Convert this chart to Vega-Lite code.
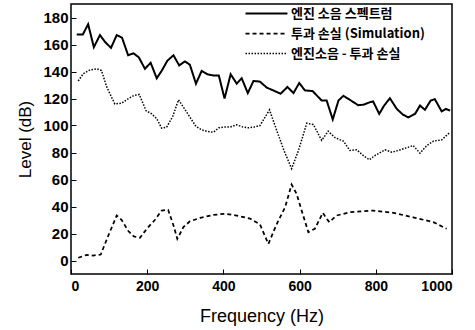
{
  "$schema": "https://vega.github.io/schema/vega-lite/v6.json",
  "width": 381,
  "height": 270,
  "autosize": {"type": "none"},
  "padding": {"left": 71, "top": 4, "right": 23, "bottom": 56},
  "background": "white",
  "config": {
    "font": "Liberation Sans",
    "view": {"stroke": "black", "strokeWidth": 1.5},
    "axis": {
      "grid": false,
      "domain": false,
      "tickColor": "black",
      "tickSize": -5,
      "tickWidth": 1,
      "labelColor": "black",
      "labelFont": "Liberation Sans",
      "labelFontWeight": "bold",
      "labelFontSize": 14,
      "titleColor": "black",
      "titleFont": "Liberation Sans",
      "titleFontWeight": "normal"
    }
  },
  "data": {
    "values": [
      {"freq": 15, "level": 167.4, "series": "엔진 소음 스펙트럼"},
      {"freq": 31, "level": 167.4, "series": "엔진 소음 스펙트럼"},
      {"freq": 45, "level": 175, "series": "엔진 소음 스펙트럼"},
      {"freq": 60, "level": 158, "series": "엔진 소음 스펙트럼"},
      {"freq": 76, "level": 167, "series": "엔진 소음 스펙트럼"},
      {"freq": 89, "level": 162, "series": "엔진 소음 스펙트럼"},
      {"freq": 105, "level": 157.5, "series": "엔진 소음 스펙트럼"},
      {"freq": 120, "level": 167, "series": "엔진 소음 스펙트럼"},
      {"freq": 134, "level": 165, "series": "엔진 소음 스펙트럼"},
      {"freq": 150, "level": 152, "series": "엔진 소음 스펙트럼"},
      {"freq": 164, "level": 153.5, "series": "엔진 소음 스펙트럼"},
      {"freq": 178, "level": 150.5, "series": "엔진 소음 스펙트럼"},
      {"freq": 194, "level": 142, "series": "엔진 소음 스펙트럼"},
      {"freq": 209, "level": 146.5, "series": "엔진 소음 스펙트럼"},
      {"freq": 225, "level": 135, "series": "엔진 소음 스펙트럼"},
      {"freq": 238, "level": 140.5, "series": "엔진 소음 스펙트럼"},
      {"freq": 253, "level": 148, "series": "엔진 소음 스펙트럼"},
      {"freq": 269, "level": 152, "series": "엔진 소음 스펙트럼"},
      {"freq": 284, "level": 144.5, "series": "엔진 소음 스펙트럼"},
      {"freq": 299, "level": 147.5, "series": "엔진 소음 스펙트럼"},
      {"freq": 312, "level": 145, "series": "엔진 소음 스펙트럼"},
      {"freq": 328, "level": 131, "series": "엔진 소음 스펙트럼"},
      {"freq": 343, "level": 140.5, "series": "엔진 소음 스펙트럼"},
      {"freq": 358, "level": 138, "series": "엔진 소음 스펙트럼"},
      {"freq": 374, "level": 137, "series": "엔진 소음 스펙트럼"},
      {"freq": 388, "level": 137, "series": "엔진 소음 스펙트럼"},
      {"freq": 403, "level": 120, "series": "엔진 소음 스펙트럼"},
      {"freq": 419, "level": 138, "series": "엔진 소음 스펙트럼"},
      {"freq": 435, "level": 131, "series": "엔진 소음 스펙트럼"},
      {"freq": 448, "level": 135, "series": "엔진 소음 스펙트럼"},
      {"freq": 464, "level": 124, "series": "엔진 소음 스펙트럼"},
      {"freq": 479, "level": 133, "series": "엔진 소음 스펙트럼"},
      {"freq": 496, "level": 132.5, "series": "엔진 소음 스펙트럼"},
      {"freq": 514, "level": 128, "series": "엔진 소음 스펙트럼"},
      {"freq": 531, "level": 126, "series": "엔진 소음 스펙트럼"},
      {"freq": 550, "level": 123.5, "series": "엔진 소음 스펙트럼"},
      {"freq": 568, "level": 128.5, "series": "엔진 소음 스펙트럼"},
      {"freq": 584, "level": 124, "series": "엔진 소음 스펙트럼"},
      {"freq": 599, "level": 131.5, "series": "엔진 소음 스펙트럼"},
      {"freq": 614, "level": 126, "series": "엔진 소음 스펙트럼"},
      {"freq": 634, "level": 125.5, "series": "엔진 소음 스펙트럼"},
      {"freq": 658, "level": 118.5, "series": "엔진 소음 스펙트럼"},
      {"freq": 671, "level": 118.5, "series": "엔진 소음 스펙트럼"},
      {"freq": 687, "level": 104.5, "series": "엔진 소음 스펙트럼"},
      {"freq": 702, "level": 118.5, "series": "엔진 소음 스펙트럼"},
      {"freq": 715, "level": 122, "series": "엔진 소음 스펙트럼"},
      {"freq": 732, "level": 119, "series": "엔진 소음 스펙트럼"},
      {"freq": 754, "level": 115, "series": "엔진 소음 스펙트럼"},
      {"freq": 769, "level": 115.5, "series": "엔진 소음 스펙트럼"},
      {"freq": 785, "level": 117.3, "series": "엔진 소음 스펙트럼"},
      {"freq": 793, "level": 117.8, "series": "엔진 소음 스펙트럼"},
      {"freq": 809, "level": 108.6, "series": "엔진 소음 스펙트럼"},
      {"freq": 822, "level": 114.8, "series": "엔진 소음 스펙트럼"},
      {"freq": 837, "level": 120.2, "series": "엔진 소음 스펙트럼"},
      {"freq": 855, "level": 112.3, "series": "엔진 소음 스펙트럼"},
      {"freq": 871, "level": 108.1, "series": "엔진 소음 스펙트럼"},
      {"freq": 885, "level": 106, "series": "엔진 소음 스펙트럼"},
      {"freq": 903, "level": 108.6, "series": "엔진 소음 스펙트럼"},
      {"freq": 916, "level": 114.8, "series": "엔진 소음 스펙트럼"},
      {"freq": 929, "level": 111.6, "series": "엔진 소음 스펙트럼"},
      {"freq": 944, "level": 118.5, "series": "엔진 소음 스펙트럼"},
      {"freq": 955, "level": 119.5, "series": "엔진 소음 스펙트럼"},
      {"freq": 973, "level": 110.4, "series": "엔진 소음 스펙트럼"},
      {"freq": 984, "level": 112.3, "series": "엔진 소음 스펙트럼"},
      {"freq": 995, "level": 111, "series": "엔진 소음 스펙트럼"},

      {"freq": 19, "level": 2, "series": "투과 손실 (Simulation)"},
      {"freq": 41, "level": 4.2, "series": "투과 손실 (Simulation)"},
      {"freq": 58, "level": 3.7, "series": "투과 손실 (Simulation)"},
      {"freq": 78, "level": 4.4, "series": "투과 손실 (Simulation)"},
      {"freq": 98, "level": 18.5, "series": "투과 손실 (Simulation)"},
      {"freq": 120, "level": 33.3, "series": "투과 손실 (Simulation)"},
      {"freq": 133, "level": 30, "series": "투과 손실 (Simulation)"},
      {"freq": 150, "level": 22, "series": "투과 손실 (Simulation)"},
      {"freq": 165, "level": 17.8, "series": "투과 손실 (Simulation)"},
      {"freq": 181, "level": 16.8, "series": "투과 손실 (Simulation)"},
      {"freq": 199, "level": 23.5, "series": "투과 손실 (Simulation)"},
      {"freq": 220, "level": 30, "series": "투과 손실 (Simulation)"},
      {"freq": 238, "level": 37, "series": "투과 손실 (Simulation)"},
      {"freq": 255, "level": 37.5, "series": "투과 손실 (Simulation)"},
      {"freq": 269, "level": 26, "series": "투과 손실 (Simulation)"},
      {"freq": 279, "level": 16, "series": "투과 손실 (Simulation)"},
      {"freq": 295, "level": 24.7, "series": "투과 손실 (Simulation)"},
      {"freq": 312, "level": 29, "series": "투과 손실 (Simulation)"},
      {"freq": 339, "level": 31.6, "series": "투과 손실 (Simulation)"},
      {"freq": 374, "level": 33.8, "series": "투과 손실 (Simulation)"},
      {"freq": 404, "level": 34.6, "series": "투과 손실 (Simulation)"},
      {"freq": 435, "level": 33.3, "series": "투과 손실 (Simulation)"},
      {"freq": 470, "level": 31, "series": "투과 손실 (Simulation)"},
      {"freq": 496, "level": 26.7, "series": "투과 손실 (Simulation)"},
      {"freq": 518, "level": 12.3, "series": "투과 손실 (Simulation)"},
      {"freq": 540, "level": 27, "series": "투과 손실 (Simulation)"},
      {"freq": 562, "level": 39.5, "series": "투과 손실 (Simulation)"},
      {"freq": 579, "level": 56.3, "series": "투과 손실 (Simulation)"},
      {"freq": 592, "level": 49.4, "series": "투과 손실 (Simulation)"},
      {"freq": 608, "level": 34.6, "series": "투과 손실 (Simulation)"},
      {"freq": 623, "level": 21, "series": "투과 손실 (Simulation)"},
      {"freq": 640, "level": 23.5, "series": "투과 손실 (Simulation)"},
      {"freq": 661, "level": 35.3, "series": "투과 손실 (Simulation)"},
      {"freq": 671, "level": 31, "series": "투과 손실 (Simulation)"},
      {"freq": 678, "level": 28.4, "series": "투과 손실 (Simulation)"},
      {"freq": 697, "level": 33.3, "series": "투과 손실 (Simulation)"},
      {"freq": 732, "level": 35.8, "series": "투과 손실 (Simulation)"},
      {"freq": 793, "level": 37, "series": "투과 손실 (Simulation)"},
      {"freq": 846, "level": 35.3, "series": "투과 손실 (Simulation)"},
      {"freq": 898, "level": 32, "series": "투과 손실 (Simulation)"},
      {"freq": 951, "level": 28.4, "series": "투과 손실 (Simulation)"},
      {"freq": 986, "level": 23.5, "series": "투과 손실 (Simulation)"},

      {"freq": 19, "level": 133, "series": "엔진소음 - 투과 손실"},
      {"freq": 32, "level": 138.3, "series": "엔진소음 - 투과 손실"},
      {"freq": 50, "level": 141.2, "series": "엔진소음 - 투과 손실"},
      {"freq": 67, "level": 142, "series": "엔진소음 - 투과 손실"},
      {"freq": 80, "level": 140.7, "series": "엔진소음 - 투과 손실"},
      {"freq": 94, "level": 128.4, "series": "엔진소음 - 투과 손실"},
      {"freq": 115, "level": 116, "series": "엔진소음 - 투과 손실"},
      {"freq": 133, "level": 116.5, "series": "엔진소음 - 투과 손실"},
      {"freq": 150, "level": 119.8, "series": "엔진소음 - 투과 손실"},
      {"freq": 165, "level": 122.2, "series": "엔진소음 - 투과 손실"},
      {"freq": 179, "level": 123, "series": "엔진소음 - 투과 손실"},
      {"freq": 197, "level": 111, "series": "엔진소음 - 투과 손실"},
      {"freq": 212, "level": 108.6, "series": "엔진소음 - 투과 손실"},
      {"freq": 225, "level": 105, "series": "엔진소음 - 투과 손실"},
      {"freq": 238, "level": 98, "series": "엔진소음 - 투과 손실"},
      {"freq": 251, "level": 98.8, "series": "엔진소음 - 투과 손실"},
      {"freq": 267, "level": 106.7, "series": "엔진소음 - 투과 손실"},
      {"freq": 282, "level": 119, "series": "엔진소음 - 투과 손실"},
      {"freq": 295, "level": 113.6, "series": "엔진소음 - 투과 손실"},
      {"freq": 312, "level": 106.2, "series": "엔진소음 - 투과 손실"},
      {"freq": 328, "level": 99.3, "series": "엔진소음 - 투과 손실"},
      {"freq": 343, "level": 96.8, "series": "엔진소음 - 투과 손실"},
      {"freq": 358, "level": 95.6, "series": "엔진소음 - 투과 손실"},
      {"freq": 374, "level": 95, "series": "엔진소음 - 투과 손실"},
      {"freq": 388, "level": 98.3, "series": "엔진소음 - 투과 손실"},
      {"freq": 402, "level": 98.8, "series": "엔진소음 - 투과 손실"},
      {"freq": 417, "level": 98.8, "series": "엔진소음 - 투과 손실"},
      {"freq": 435, "level": 100.5, "series": "엔진소음 - 투과 손실"},
      {"freq": 452, "level": 98.8, "series": "엔진소음 - 투과 손실"},
      {"freq": 466, "level": 98.3, "series": "엔진소음 - 투과 손실"},
      {"freq": 480, "level": 98.8, "series": "엔진소음 - 투과 손실"},
      {"freq": 496, "level": 100, "series": "엔진소음 - 투과 손실"},
      {"freq": 509, "level": 106, "series": "엔진소음 - 투과 손실"},
      {"freq": 521, "level": 111.6, "series": "엔진소음 - 투과 손실"},
      {"freq": 540, "level": 96.3, "series": "엔진소음 - 투과 손실"},
      {"freq": 559, "level": 81.5, "series": "엔진소음 - 투과 손실"},
      {"freq": 579, "level": 68, "series": "엔진소음 - 투과 손실"},
      {"freq": 597, "level": 81.5, "series": "엔진소음 - 투과 손실"},
      {"freq": 619, "level": 101.7, "series": "엔진소음 - 투과 손실"},
      {"freq": 636, "level": 100.7, "series": "엔진소음 - 투과 손실"},
      {"freq": 658, "level": 89, "series": "엔진소음 - 투과 손실"},
      {"freq": 675, "level": 95.8, "series": "엔진소음 - 투과 손실"},
      {"freq": 693, "level": 91, "series": "엔진소음 - 투과 손실"},
      {"freq": 715, "level": 88.4, "series": "엔진소음 - 투과 손실"},
      {"freq": 732, "level": 81.5, "series": "엔진소음 - 투과 손실"},
      {"freq": 750, "level": 82, "series": "엔진소음 - 투과 손실"},
      {"freq": 767, "level": 77.8, "series": "엔진소음 - 투과 손실"},
      {"freq": 783, "level": 74.6, "series": "엔진소음 - 투과 손실"},
      {"freq": 798, "level": 77.8, "series": "엔진소음 - 투과 손실"},
      {"freq": 824, "level": 82, "series": "엔진소음 - 투과 손실"},
      {"freq": 842, "level": 80.2, "series": "엔진소음 - 투과 손실"},
      {"freq": 859, "level": 81.5, "series": "엔진소음 - 투과 손실"},
      {"freq": 881, "level": 83.5, "series": "엔진소음 - 투과 손실"},
      {"freq": 898, "level": 85.2, "series": "엔진소음 - 투과 손실"},
      {"freq": 916, "level": 79.5, "series": "엔진소음 - 투과 손실"},
      {"freq": 934, "level": 85.2, "series": "엔진소음 - 투과 손실"},
      {"freq": 951, "level": 88.4, "series": "엔진소음 - 투과 손실"},
      {"freq": 973, "level": 89.4, "series": "엔진소음 - 투과 손실"},
      {"freq": 995, "level": 95, "series": "엔진소음 - 투과 손실"}
    ]
  },
  "mark": {"type": "line", "color": "black"},
  "encoding": {
    "x": {
      "field": "freq",
      "type": "quantitative",
      "scale": {"domain": [0, 1000], "nice": false, "zero": false},
      "axis": {"values": [0, 200, 400, 600, 800, 1000], "format": "d", "title": "Frequency (Hz)", "titleFontSize": 18, "labelPadding": 10, "titlePadding": 14}
    },
    "y": {
      "field": "level",
      "type": "quantitative",
      "scale": {"domain": [-10, 190], "nice": false, "zero": false},
      "axis": {"values": [0, 20, 40, 60, 80, 100, 120, 140, 160, 180], "title": "Level (dB)", "titleFontSize": 17, "labelFontSize": 15, "labelPadding": 8, "titlePadding": 8}
    },
    "strokeDash": {
      "field": "series",
      "type": "nominal",
      "scale": {
        "domain": ["엔진 소음 스펙트럼", "투과 손실 (Simulation)", "엔진소음 - 투과 손실"],
        "range": [[1, 0], [4, 3], [1.5, 1.5]]
      },
      "legend": {
        "title": null,
        "orient": "none",
        "legendX": 189,
        "legendY": 3,
        "symbolType": "M-4,0H4",
        "symbolSize": 110,
        "symbolStrokeColor": "black",
        "symbolFillColor": "transparent",
        "symbolStrokeWidth": 1.5,
        "labelFont": "Noto Sans CJK KR",
        "labelFontWeight": "bold",
        "labelFontSize": 13,
        "labelColor": "black",
        "labelOffset": 18,
        "rowPadding": 6
      }
    },
    "strokeWidth": {
      "field": "series",
      "type": "nominal",
      "scale": {
        "domain": ["엔진 소음 스펙트럼", "투과 손실 (Simulation)", "엔진소음 - 투과 손실"],
        "range": [2, 1.5, 1.5]
      },
      "legend": null
    }
  }
}
